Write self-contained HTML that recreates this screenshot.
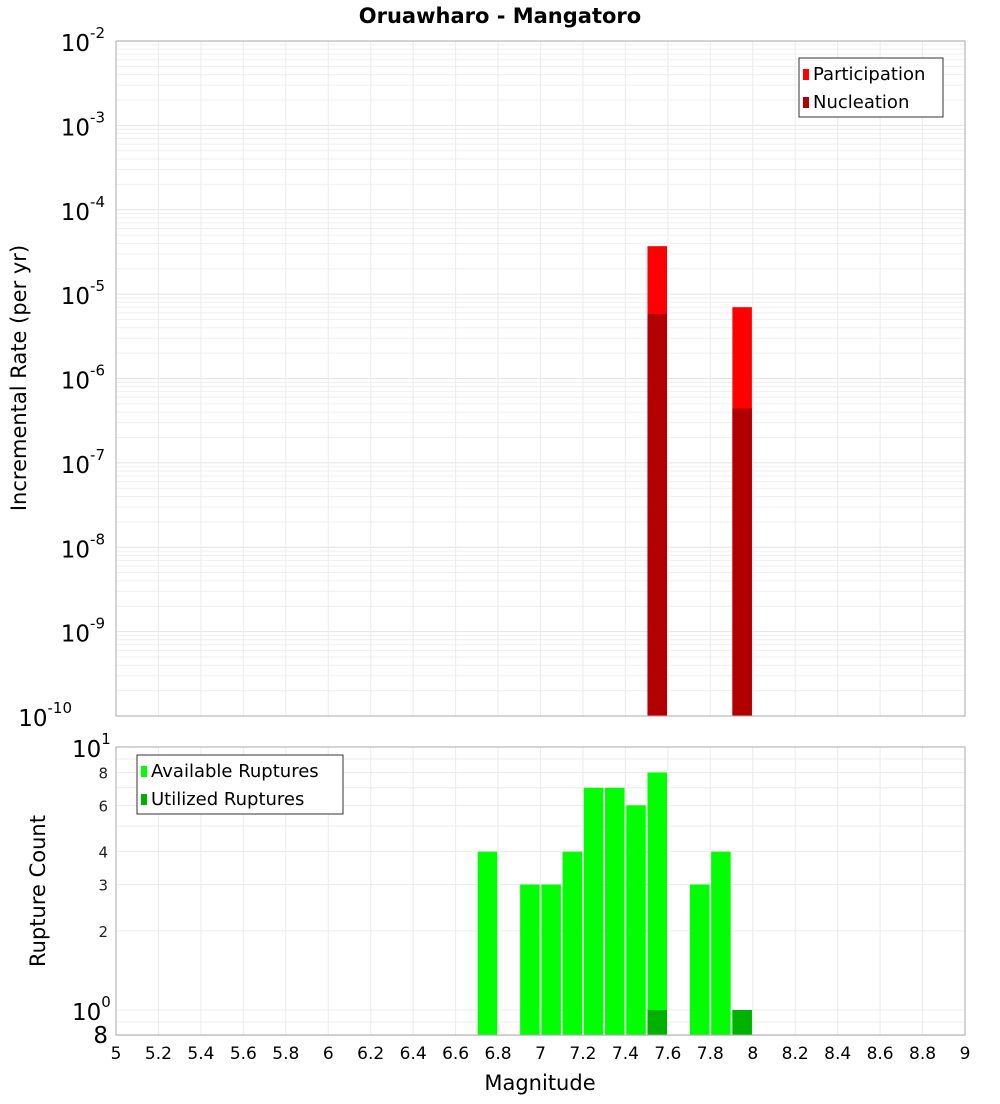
<!DOCTYPE html>
<html><head><meta charset="utf-8"><style>
body{margin:0;background:#fff;font-family:"DejaVu Sans","Liberation Sans",sans-serif}
svg text{font-family:"DejaVu Sans","Liberation Sans",sans-serif}
</style></head><body>
<svg id="c" width="1000" height="1100" xmlns="http://www.w3.org/2000/svg">
<text x="500" y="23" text-anchor="middle" font-size="21" font-weight="bold">Oruawharo - Mangatoro</text>
<text transform="translate(26,378) rotate(-90)" text-anchor="middle" font-size="21">Incremental Rate (per yr)</text>
<text transform="translate(45,891) rotate(-90)" text-anchor="middle" font-size="21">Rupture Count</text>
<text x="540" y="1090" text-anchor="middle" font-size="21">Magnitude</text>
<g id="g"></g>
</svg>
<script>
const mags=[6.75,6.95,7.05,7.15,7.25,7.35,7.45,7.55,7.75,7.85,7.95];
const available=[4,3,3,4,7,7,6,8,3,4,1];
const utilMags=[7.55,7.95];
const utilized=[1,1];
const rateMags=[7.55,7.95];
const participation=[3.7e-5,7e-6];
const nucleation=[5.8e-6,4.4e-7];
const xTicks=[5,5.2,5.4,5.6,5.8,6,6.2,6.4,6.6,6.8,7,7.2,7.4,7.6,7.8,8,8.2,8.4,8.6,8.8,9];
const topExps=[-2,-3,-4,-5,-6,-7,-8,-9,-10];
const botTicks=[8,6,4,3,2];

const NS="http://www.w3.org/2000/svg";
const G=document.getElementById('g');
function el(t,a,p){const e=document.createElementNS(NS,t);for(const k in a)e.setAttribute(k,a[k]);(p||G).appendChild(e);return e;}
const L=116,R=965,T1=41,B1=716,T2=747,B2=1035;
const X=m=>L+(m-5)*(R-L)/4;
const Y1=v=>T1+(-2-Math.log10(v))*(B1-T1)/8;
const Y2=v=>1010-Math.log10(v)*263;
// grids
for(let d=-10;d<-2;d++)for(let k=1;k<10;k++){const y=Y1(k*Math.pow(10,d));
 const l=el('line',{x1:L,x2:R,y1:y,y2:y,stroke:k==1?'#e4e4e4':'#efefef','stroke-width':1});
 }
for(const v of [0.8,0.9,1,2,3,4,5,6,7,8,9]){const y=Y2(v);
 const l=el('line',{x1:L,x2:R,y1:y,y2:y,stroke:'#ececec'});
 }
for(const m of xTicks){const x=X(m);
 let l=el('line',{x1:x,x2:x,y1:T1,y2:B1,stroke:'#ececec'});
 
 l=el('line',{x1:x,x2:x,y1:T2,y2:B2,stroke:'#ececec'});
 
 const t=el('text',{x:x,y:1059,'text-anchor':'middle','font-size':17});t.textContent=String(m);
 }
const bw=(R-L)/40*0.92;
// top bars
rateMags.forEach((m,i)=>{
 let r=el('rect',{x:X(m)-bw/2,y:Y1(participation[i]),width:bw,height:B1-Y1(participation[i]),fill:'#ff0000'});
 
 r=el('rect',{x:X(m)-bw/2,y:Y1(nucleation[i]),width:bw,height:B1-Y1(nucleation[i]),fill:'#b20000'});
 
});
mags.forEach((m,i)=>{
 const r=el('rect',{x:X(m)-bw/2,y:Y2(available[i]),width:bw,height:B2-Y2(available[i]),fill:'#00ff00'});
 
});
utilMags.forEach((m,i)=>{
 const r=el('rect',{x:X(m)-bw/2,y:Y2(utilized[i]),width:bw,height:B2-Y2(utilized[i]),fill:'#00b200'});
 
});
// frames
let f=el('rect',{x:L,y:T1,width:R-L,height:B1-T1,fill:'none',stroke:'#aaa'});

f=el('rect',{x:L,y:T2,width:R-L,height:B2-T2,fill:'none',stroke:'#aaa'});

// top y labels
topExps.forEach(e=>{const y=Y1(Math.pow(10,e));
 const t=el('text',{x:105,y:y+10,'text-anchor':'end','font-size':23});
 
 t.textContent='10';const s=el('tspan',{dy:-13,'font-size':15},t);s.textContent=String(e);
 if(e==-10){t.setAttribute('x',72);}
});
// bottom y labels
[[10,'1'],[1,'0']].forEach(([v,e])=>{const y=Y2(v);
 const t=el('text',{x:72,y:y+10,'font-size':23});
 
 t.textContent='10';const s=el('tspan',{dy:-13,'font-size':15},t);s.textContent=e;});
botTicks.forEach(v=>{const y=Y2(v);
 const t=el('text',{x:108,y:y+6,'text-anchor':'end','font-size':15,fill:'#222'});t.textContent=String(v);
 });
let t8=el('text',{x:108,y:1043,'text-anchor':'end','font-size':23});t8.textContent='8';

// legends
function legend(x,y,w,items,name){const g=el('g',{});
 
 el('rect',{x:x,y:y,width:w,height:59,fill:'#fff',stroke:'#333'},g);
 items.forEach(([c,l],i)=>{el('rect',{x:x+4,y:y+11+i*28,width:6,height:11,fill:c},g);
  const t=el('text',{x:x+14,y:y+22+i*28,'font-size':18},g);t.textContent=l;});}
legend(799,58,144,[['#ff0000','Participation'],['#b20000','Nucleation']],'top-legend');
legend(137,755,206,[['#00ff00','Available Ruptures'],['#00b200','Utilized Ruptures']],'bottom-legend');
</script>
</body></html>
